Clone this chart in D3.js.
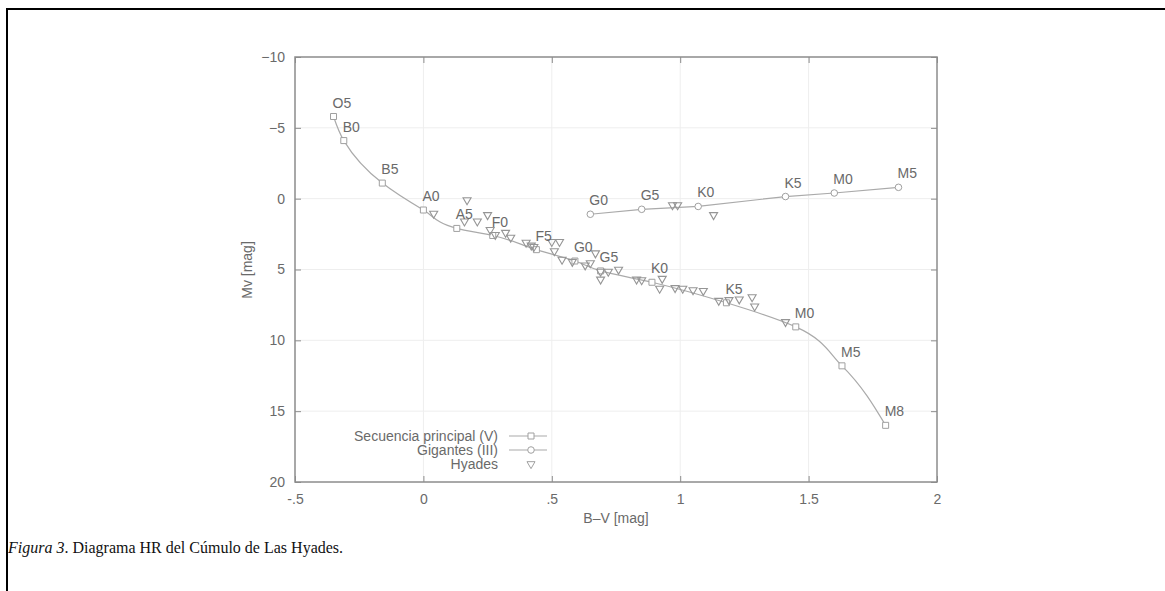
<!DOCTYPE html>
<html>
<head>
<meta charset="utf-8">
<script src="https://cdn.jsdelivr.net/npm/d3@7"></script>
<style>
  html, body { margin: 0; padding: 0; background: #fff; }
  svg { display: block; }
</style>
</head>
<body>
<svg id="chart" width="1165" height="591"></svg>
<script>
// Main sequence (V): B-V, Mv, spectral type
const msColor = [-0.35, -0.31, -0.16, 0.00, 0.13, 0.27, 0.44, 0.59, 0.69, 0.89, 1.18, 1.45, 1.63, 1.80];
const msMag   = [-5.8, -4.1, -1.1, 0.8, 2.1, 2.6, 3.6, 4.4, 5.1, 5.9, 7.35, 9.05, 11.8, 16.0];
const msType  = ["O5", "B0", "B5", "A0", "A5", "F0", "F5", "G0", "G5", "K0", "K5", "M0", "M5", "M8"];

// Giants (III)
const giColor = [0.65, 0.85, 1.07, 1.41, 1.60, 1.85];
const giMag   = [1.1, 0.75, 0.55, -0.15, -0.4, -0.8];
const giType  = ["G0", "G5", "K0", "K5", "M0", "M5"];

// Hyades stars
const hyColor = [0.04, 0.17, 0.16, 0.21, 0.25, 0.26, 0.28, 0.32, 0.34, 0.40, 0.42, 0.43,
                 0.50, 0.53, 0.51, 0.54, 0.58, 0.63, 0.65, 0.67, 0.69, 0.69, 0.72, 0.76,
                 0.83, 0.85, 0.93, 0.92, 0.98, 1.01, 1.05, 1.09, 1.15, 1.19, 1.23, 1.28,
                 1.29, 1.41, 0.97, 0.99, 1.13];
const hyMag   = [1.05, 0.1, 1.6, 1.6, 1.15, 2.2, 2.55, 2.4, 2.75, 3.1, 3.3, 3.4,
                 3.05, 3.05, 3.7, 4.3, 4.45, 4.7, 4.55, 3.85, 5.15, 5.7, 5.15, 5.0,
                 5.7, 5.75, 5.65, 6.35, 6.3, 6.35, 6.45, 6.5, 7.2, 7.15, 7.1, 6.95,
                 7.6, 8.7, 0.45, 0.45, 1.15];

const xTicks = [-0.5, 0, 0.5, 1, 1.5, 2];
const xTickLabels = ["-.5", "0", ".5", "1", "1.5", "2"];
const yTicks = [-10, -5, 0, 5, 10, 15, 20];

const svg = d3.select("#chart");
const plotLeft = 295, plotTop = 57, plotW = 642, plotH = 425;
const textCol = "#6a6a6a", markCol = "#a0a0a0", axisCol = "#8c8c8c";
const font = "'Liberation Sans', Arial, sans-serif";

// Page frame
svg.append("line").attr("x1", 6).attr("x2", 1165).attr("y1", 9).attr("y2", 9)
    .attr("stroke", "#000").attr("stroke-width", 2);
svg.append("line").attr("x1", 7).attr("x2", 7).attr("y1", 8).attr("y2", 591)
    .attr("stroke", "#000").attr("stroke-width", 2);

const x = d3.scaleLinear().domain([-0.5, 2]).range([plotLeft, plotLeft + plotW]);
const y = d3.scaleLinear().domain([-10, 20]).range([plotTop, plotTop + plotH]);

const g = svg.append("g");

// Grid
g.selectAll(".gx").data(xTicks.slice(1, -1)).join("line")
    .attr("x1", d => x(d)).attr("x2", d => x(d))
    .attr("y1", plotTop).attr("y2", plotTop + plotH)
    .attr("stroke", "#eeeeee").attr("stroke-width", 1);
g.selectAll(".gy").data(yTicks.slice(1, -1)).join("line")
    .attr("x1", plotLeft).attr("x2", plotLeft + plotW)
    .attr("y1", d => y(d)).attr("y2", d => y(d))
    .attr("stroke", "#eeeeee").attr("stroke-width", 1);

// Axes (ticks inward, mirrored)
const fmtX = d => xTickLabels[xTicks.indexOf(d)];
const axB = d3.axisBottom(x).tickValues(xTicks).tickFormat(fmtX).tickSizeInner(-6).tickSizeOuter(0).tickPadding(12);
const axT = d3.axisTop(x).tickValues(xTicks).tickFormat("").tickSizeInner(-6).tickSizeOuter(0);
const axL = d3.axisLeft(y).tickValues(yTicks).tickFormat(d => d < 0 ? "\u2212" + Math.abs(d) : d)
    .tickSizeInner(-6).tickSizeOuter(0).tickPadding(10);
const axR = d3.axisRight(y).tickValues(yTicks).tickFormat("").tickSizeInner(-6).tickSizeOuter(0);

function styleAxis(sel) {
    sel.select(".domain").remove();
    sel.selectAll("line").attr("stroke", axisCol);
    sel.selectAll("text").attr("fill", textCol).attr("font-family", font).attr("font-size", 14);
}
g.append("g").attr("transform", `translate(0,${plotTop + plotH})`).call(axB).call(styleAxis);
g.append("g").attr("transform", `translate(0,${plotTop})`).call(axT).call(styleAxis);
g.append("g").attr("transform", `translate(${plotLeft},0)`).call(axL).call(styleAxis);
g.append("g").attr("transform", `translate(${plotLeft + plotW},0)`).call(axR).call(styleAxis);

g.append("rect").attr("x", plotLeft).attr("y", plotTop).attr("width", plotW).attr("height", plotH)
    .attr("fill", "none").attr("stroke", axisCol).attr("stroke-width", 1.5);

// Axis titles
g.append("text").attr("x", x(0.75)).attr("y", 523).attr("text-anchor", "middle")
    .attr("fill", textCol).attr("font-family", font).attr("font-size", 14).text("B\u2013V [mag]");
g.append("text").attr("transform", "translate(252,270) rotate(-90)").attr("text-anchor", "middle")
    .attr("fill", textCol).attr("font-family", font).attr("font-size", 14).text("Mv [mag]");

// Series data
const ms = msColor.map((c, i) => ({ c, m: msMag[i], t: msType[i] }));
const gi = giColor.map((c, i) => ({ c, m: giMag[i], t: giType[i] }));
const hy = hyColor.map((c, i) => ({ c, m: hyMag[i] }));

// main sequence is monotonic in Mv, so interpolate along y
const line = d3.line().x(d => x(d.c)).y(d => y(d.m)).curve(d3.curveMonotoneY);
g.append("path").attr("d", line(ms)).attr("fill", "none").attr("stroke", "#aaaaaa").attr("stroke-width", 1.2);
g.append("path").attr("d", d3.line().x(d => x(d.c)).y(d => y(d.m))(gi))
    .attr("fill", "none").attr("stroke", "#aaaaaa").attr("stroke-width", 1.2);

const sq = d3.symbol().type(d3.symbolSquare).size(36);
const ci = d3.symbol().type(d3.symbolCircle).size(34);
const tri = d3.symbol().type(d3.symbolTriangle).size(28);

g.selectAll(".ms").data(ms).join("path")
    .attr("d", sq).attr("transform", d => `translate(${x(d.c)},${y(d.m)})`)
    .attr("fill", "#fff").attr("stroke", markCol).attr("stroke-width", 1);
g.selectAll(".gi").data(gi).join("path")
    .attr("d", ci).attr("transform", d => `translate(${x(d.c)},${y(d.m)})`)
    .attr("fill", "#fff").attr("stroke", markCol).attr("stroke-width", 1);
g.selectAll(".hy").data(hy).join("path")
    .attr("d", tri).attr("transform", d => `translate(${x(d.c)},${y(d.m)}) rotate(180)`)
    .attr("fill", "none").attr("stroke", "#959595").attr("stroke-width", 1.1);

// Spectral type labels
g.selectAll(".msl").data(ms.concat(gi)).join("text")
    .attr("x", d => x(d.c) - 1).attr("y", d => y(d.m) - 9)
    .attr("fill", textCol).attr("font-family", font).attr("font-size", 14)
    .text(d => d.t);

// Legend
const legend = [
    { name: "Secuencia principal (V)", sym: sq, line: true, rot: 0 },
    { name: "Gigantes (III)", sym: ci, line: true, rot: 0 },
    { name: "Hyades", sym: tri, line: false, rot: 180 }
];
const lg = g.append("g");
legend.forEach((d, i) => {
    const ly = 436 + i * 14;
    lg.append("text").attr("x", 498).attr("y", ly + 5).attr("text-anchor", "end")
        .attr("fill", textCol).attr("font-family", font).attr("font-size", 14).text(d.name);
    if (d.line) {
        lg.append("line").attr("x1", 509).attr("x2", 547).attr("y1", ly).attr("y2", ly)
            .attr("stroke", "#aaaaaa").attr("stroke-width", 1.2);
    }
    lg.append("path").attr("d", d.sym).attr("transform", `translate(531,${ly}) rotate(${d.rot})`)
        .attr("fill", "#fff").attr("stroke", markCol).attr("stroke-width", 1);
});

// Caption
const cap = svg.append("text").attr("x", 8).attr("y", 553)
    .attr("font-family", "'Liberation Serif', 'Times New Roman', serif").attr("font-size", 16).attr("fill", "#111");
cap.append("tspan").attr("font-style", "italic").text("Figura 3");
cap.append("tspan").text(". Diagrama HR del Cúmulo de Las Hyades.");
</script>
</body>
</html>
